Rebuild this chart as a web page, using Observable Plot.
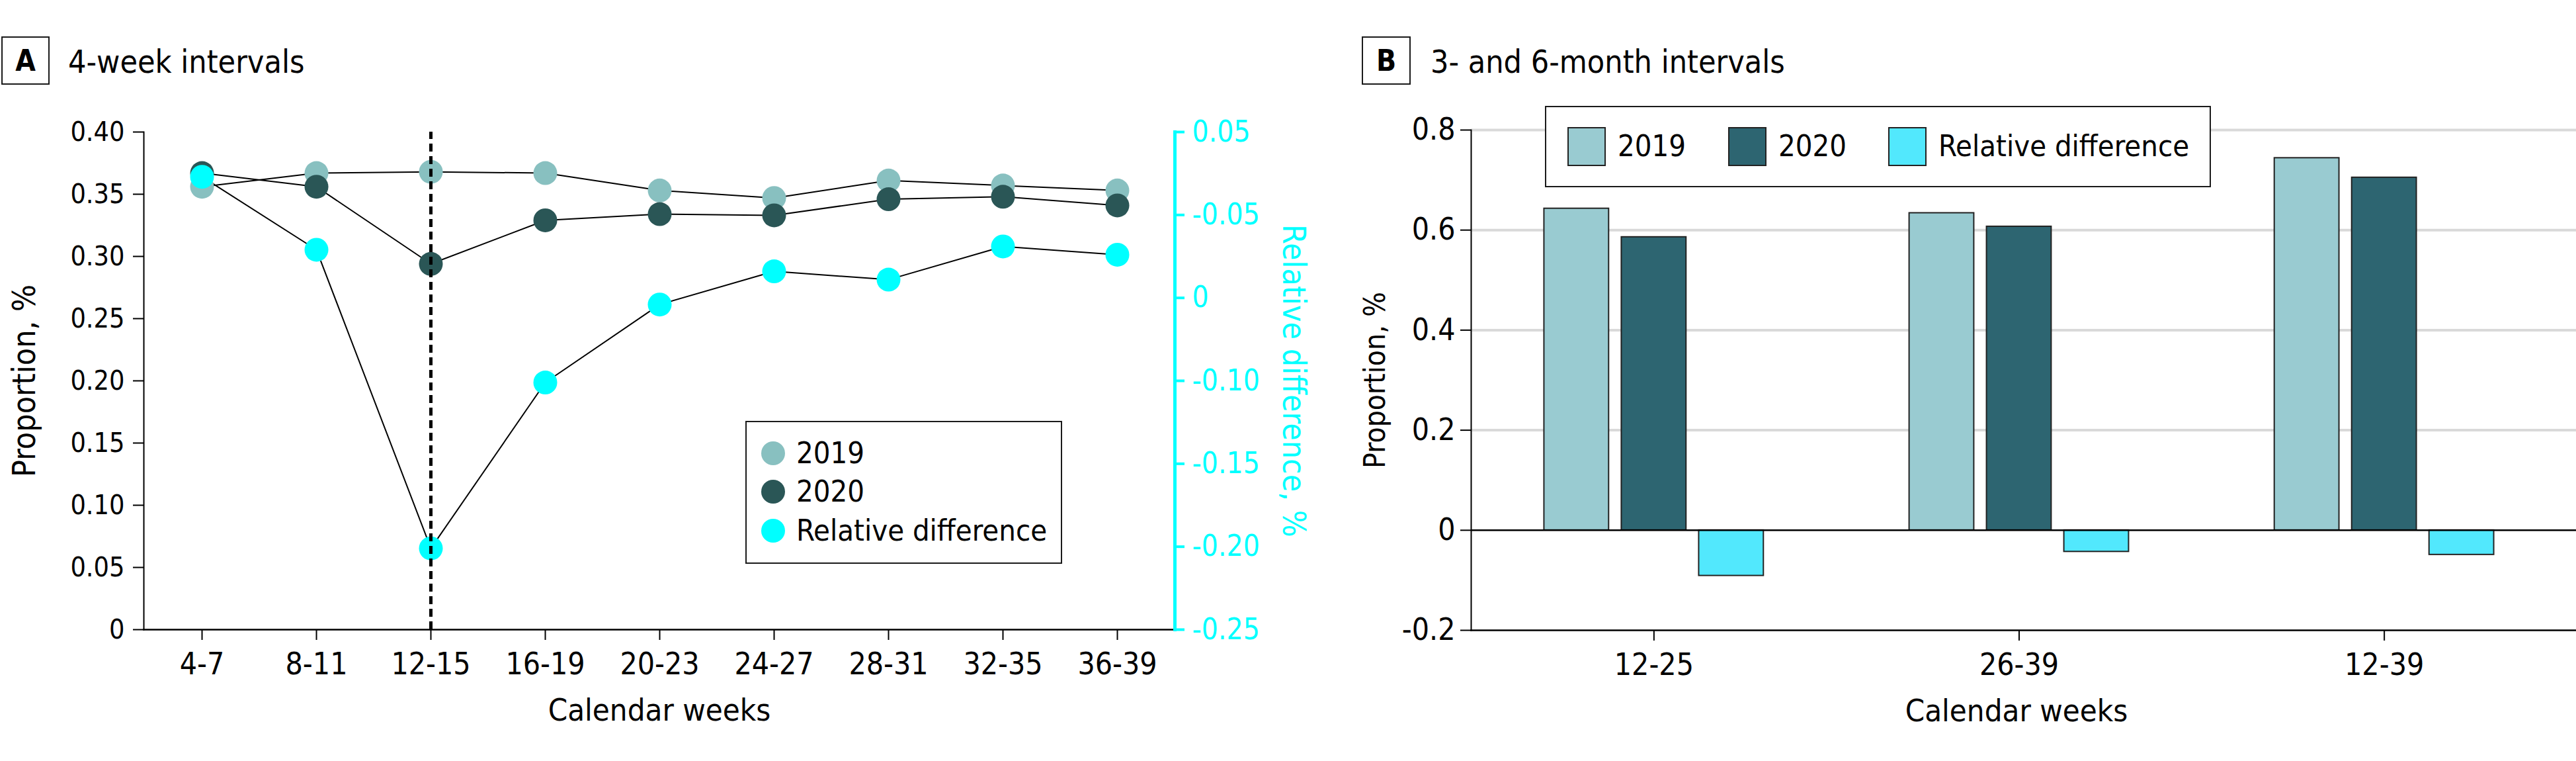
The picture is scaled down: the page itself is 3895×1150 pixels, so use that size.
<!DOCTYPE html>
<html>
<head>
<meta charset="utf-8">
<script src="https://cdn.jsdelivr.net/npm/d3@7"></script>
<script src="https://cdn.jsdelivr.net/npm/@observablehq/plot@0.6"></script>
<style>
html, body { margin: 0; padding: 0; background: #fff; }
#root { position: relative; width: 3895px; height: 1150px; overflow: hidden; background: #fff;
  font-family: 'DejaVu Sans Condensed', 'DejaVu Sans', sans-serif; font-stretch: condensed; color: #000; }
.abs { position: absolute; }
.box { box-sizing: border-box; border: 2.5px solid #1a1a1a; display: flex; align-items: center; justify-content: center;
  font-weight: bold; font-size: 44px; }
.title { font-size: 48px; line-height: 48px; white-space: nowrap; }
.legbox { box-sizing: border-box; border: 2.5px solid #1a1a1a; background: #fff; }
.row { display: flex; align-items: center; height: 58px; font-size: 45px; line-height: 58px; white-space: nowrap; }
.dotsw { width: 36px; height: 36px; border-radius: 50%; margin-right: 17px; flex: none; }
.sq { box-sizing: border-box; width: 58px; height: 59px; border: 2px solid #222; flex: none; }
#plotA { position: absolute; left: 0; top: 0; width: 2000px; height: 1150px; }
#plotB { position: absolute; left: 2000px; top: 0; width: 1895px; height: 1150px; }
</style>
</head>
<body>
<div id="root">
  <div id="plotA"></div>
  <div id="plotB"></div>

  <div class="abs box" style="left:2px;top:55px;width:73px;height:73px;">A</div>
  <div class="abs title" style="left:103px;top:69px;">4-week intervals</div>
  <div class="abs box" style="left:2059px;top:55px;width:74px;height:73px;">B</div>
  <div class="abs title" style="left:2163px;top:69px;">3- and 6-month intervals</div>

  <div class="abs legbox" style="left:1127px;top:636px;width:479px;height:216px;"></div>
  <div id="legA"></div>

  <div class="abs legbox" style="left:2336px;top:160px;width:1007px;height:123px;"></div>
  <div id="legB"></div>
</div>
<script>
// ---------- Data ----------
const weeks = ["4-7", "8-11", "12-15", "16-19", "20-23", "24-27", "28-31", "32-35", "36-39"];
const p2019 = [0.356, 0.367, 0.368, 0.367, 0.353, 0.347, 0.361, 0.357, 0.353];
const p2020 = [0.367, 0.356, 0.294, 0.329, 0.334, 0.333, 0.346, 0.348, 0.341];
const relDiff = [0.023, -0.021, -0.201, -0.101, -0.054, -0.034, -0.039, -0.019, -0.024];

const leftTicks = [0, 0.05, 0.10, 0.15, 0.20, 0.25, 0.30, 0.35, 0.40];
const leftTickLabels = ["0", "0.05", "0.10", "0.15", "0.20", "0.25", "0.30", "0.35", "0.40"];
const relTicks = [0.05, 0, -0.05, -0.10, -0.15, -0.20, -0.25];
const relTickLabels = ["0.05", "-0.05", "0", "-0.10", "-0.15", "-0.20", "-0.25"];
const dashedWeek = ["12-15"];

const intervals = ["12-25", "26-39", "12-39"];
const b2019 = [0.643, 0.634, 0.744];
const b2020 = [0.586, 0.607, 0.705];
const bRel = [-0.091, -0.043, -0.049];
const bTicks = [-0.2, 0, 0.2, 0.4, 0.6, 0.8];
const bTickLabels = ["-0.2", "0", "0.2", "0.4", "0.6", "0.8"];

const seriesNames = ["2019", "2020", "Relative difference"];
const colorsA = ["#88c0c0", "#2a5656", "#00ffff"];
const colorsB = ["#99cbd1", "#2d6571", "#52e8fd"];

// ---------- Styles ----------
const COND = "'DejaVu Sans Condensed', 'DejaVu Sans', sans-serif";
const REG = "'DejaVu Sans', sans-serif";
const CYAN = "#00ffff";

// dual-axis mapping (right axis -> left scale domain)
const REL_DOMAIN = [-0.25, 0.05];
const LEFT_DOMAIN = [0, 0.40];
const toLeft = r => LEFT_DOMAIN[0] + (r - REL_DOMAIN[0]) / (REL_DOMAIN[1] - REL_DOMAIN[0]) * (LEFT_DOMAIN[1] - LEFT_DOMAIN[0]);
const relTicksLeft = relTicks.map(toLeft);
const nearestIndex = (arr, v) => { let bi = 0; arr.forEach((a, i) => { if (Math.abs(a - v) < Math.abs(arr[bi] - v)) bi = i; }); return bi; };

const rowsA = weeks.flatMap((w, i) => [
  {week: w, series: "2019", y: p2019[i]},
  {week: w, series: "2020", y: p2020[i]},
  {week: w, series: "Relative difference", y: toLeft(relDiff[i])}
]);

const plotA = Plot.plot({
  width: 2000, height: 1150,
  marginLeft: 217, marginRight: 224, marginTop: 199, marginBottom: 199,
  style: {fontFamily: COND, fontSize: "46px", background: "transparent", maxWidth: "none", overflow: "visible"},
  x: {type: "point", domain: weeks, padding: 0.5},
  y: {domain: LEFT_DOMAIN},
  color: {domain: seriesNames, range: colorsA},
  marks: [
    Plot.line(rowsA, {x: "week", y: "y", z: "series", stroke: "black", strokeWidth: 2}),
    Plot.dot(rowsA, {x: "week", y: "y", r: 18, fill: "series", stroke: "none"}),
    Plot.ruleX(dashedWeek, {y1: LEFT_DOMAIN[0], y2: LEFT_DOMAIN[1], stroke: "black", strokeWidth: 5, strokeDasharray: "12,7"}),
    Plot.frame({anchor: "left", stroke: "black", strokeWidth: 2}),
    Plot.frame({anchor: "bottom", stroke: "black", strokeWidth: 2.5}),
    Plot.frame({anchor: "right", stroke: CYAN, strokeWidth: 5}),
    Plot.axisY(leftTicks, {anchor: "left", tickSize: 16, tickPadding: 13, strokeWidth: 2,
      tickFormat: d => leftTickLabels[nearestIndex(leftTicks, d)], fontFamily: REG, fontSize: 41, label: null}),
    Plot.axisY(relTicksLeft, {anchor: "right", tickSize: 14, tickPadding: 12, strokeWidth: 4, color: CYAN,
      tickFormat: d => relTickLabels[nearestIndex(relTicksLeft, d)], fontFamily: COND, fontSize: 44, label: null}),
    Plot.axisX({tickSize: 16, tickPadding: 19, strokeWidth: 2, fontFamily: COND, fontSize: 46, label: null}),
    Plot.text(["Proportion, %"], {frameAnchor: "left", textAnchor: "middle", rotate: -90, dx: -180, fontFamily: COND, fontSize: 48}),
    Plot.text(["Relative difference, %"], {frameAnchor: "right", textAnchor: "middle", rotate: 90, dx: 179, fontFamily: COND, fontSize: 48, fill: CYAN}),
    Plot.text(["Calendar weeks"], {frameAnchor: "bottom", textAnchor: "middle", dy: 137, fontFamily: COND, fontSize: 47})
  ]
});
document.getElementById("plotA").appendChild(plotA);

// ---------- Panel B ----------
const rowsB = intervals.flatMap((c, i) => [
  {interval: c, series: "2019", value: b2019[i]},
  {interval: c, series: "2020", value: b2020[i]},
  {interval: c, series: "Relative difference", value: bRel[i]}
]);
const BAR_W = 98, BAR_GAP = 19, GROUP_W = 3 * BAR_W + 2 * BAR_GAP;
const barStyle = {x: "interval", y: "value", fill: "series", stroke: "#222", strokeWidth: 2};

const plotB = Plot.plot({
  width: 1895, height: 1150,
  marginLeft: 224, marginRight: 0, marginTop: 196, marginBottom: 198,
  style: {fontFamily: COND, fontSize: "46px", background: "transparent", maxWidth: "none", overflow: "visible"},
  x: {domain: intervals, range: [224, 1881], paddingInner: 0.399, paddingOuter: 0.2, round: false},
  y: {domain: [-0.2, 0.8]},
  color: {domain: seriesNames, range: colorsB},
  marks: [
    Plot.gridY(bTicks.filter(d => d > 0), {stroke: "#d9d9d9", strokeOpacity: 1, strokeWidth: 4}),
    Plot.barY(rowsB.filter(d => d.series === "2019"), {...barStyle, insetLeft: 0, insetRight: GROUP_W - BAR_W}),
    Plot.barY(rowsB.filter(d => d.series === "2020"), {...barStyle, insetLeft: BAR_W + BAR_GAP, insetRight: BAR_W + BAR_GAP}),
    Plot.barY(rowsB.filter(d => d.series === "Relative difference"), {...barStyle, insetLeft: GROUP_W - BAR_W, insetRight: 0}),
    Plot.ruleY([0], {stroke: "black", strokeWidth: 2.5}),
    Plot.frame({anchor: "left", stroke: "black", strokeWidth: 2}),
    Plot.frame({anchor: "bottom", stroke: "black", strokeWidth: 2.5}),
    Plot.axisY(bTicks, {anchor: "left", tickSize: 16, tickPadding: 8, strokeWidth: 2,
      tickFormat: d => bTickLabels[nearestIndex(bTicks, d)], fontFamily: COND, fontSize: 46, label: null}),
    Plot.axisX({tickSize: 16, tickPadding: 19, strokeWidth: 2, fontFamily: COND, fontSize: 46, label: null}),
    Plot.text(["Proportion, %"], {frameAnchor: "left", textAnchor: "middle", rotate: -90, dx: -145, fontFamily: REG, fontSize: 44}),
    Plot.text(["Calendar weeks"], {frameAnchor: "bottom", textAnchor: "middle", dy: 137, dx: -11, fontFamily: COND, fontSize: 47})
  ]
});
document.getElementById("plotB").appendChild(plotB);

// ---------- Legends (HTML) ----------
const legA = document.getElementById("legA");
const legACenters = [685, 743, 802];
seriesNames.forEach((s, i) => {
  const row = document.createElement("div");
  row.className = "abs row";
  row.style.left = "1151px";
  row.style.top = (legACenters[i] - 29) + "px";
  row.innerHTML = `<div class="dotsw" style="background:${colorsA[i]}"></div><span>${s}</span>`;
  legA.appendChild(row);
});
const legB = document.getElementById("legB");
const legBLefts = [2370, 2613, 2855];
seriesNames.forEach((s, i) => {
  const row = document.createElement("div");
  row.className = "abs row";
  row.style.left = legBLefts[i] + "px";
  row.style.top = (221 - 29) + "px";
  row.innerHTML = `<div class="sq" style="background:${colorsB[i]}"></div><span style="margin-left:18px">${s}</span>`;
  legB.appendChild(row);
});
</script>
</body>
</html>
